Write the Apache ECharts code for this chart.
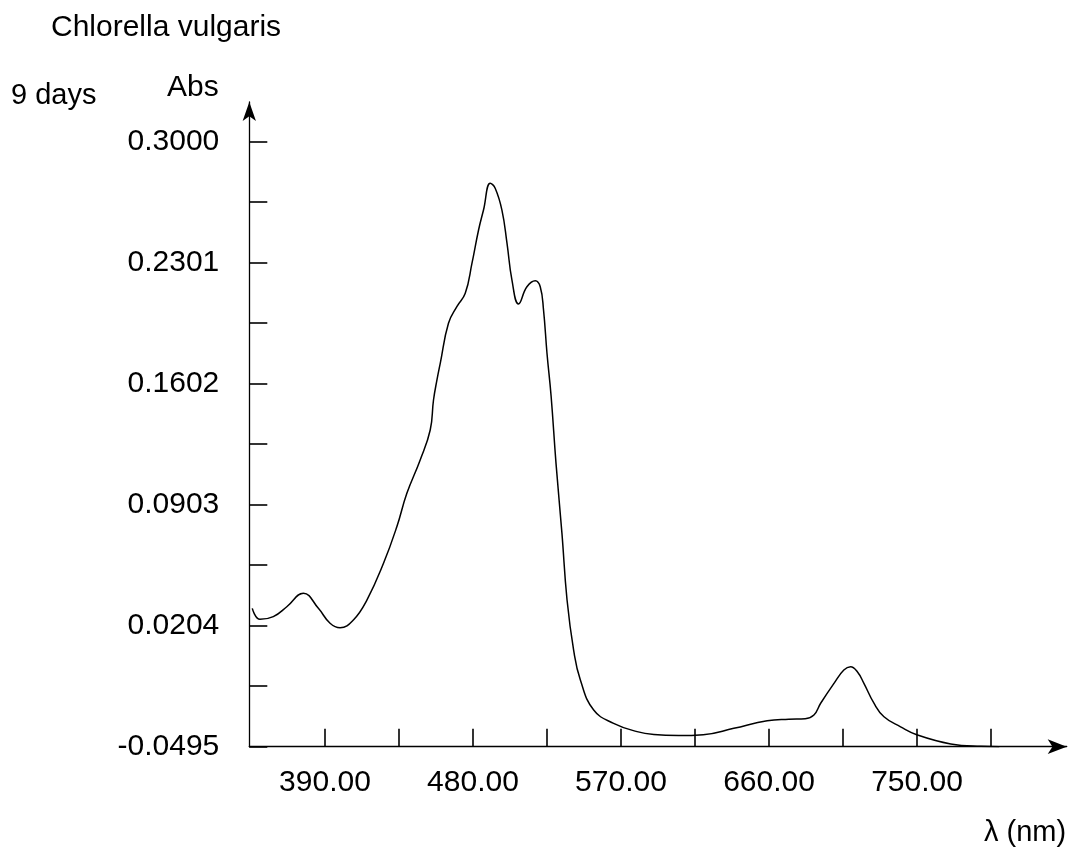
<!DOCTYPE html>
<html>
<head>
<meta charset="utf-8">
<script src="https://cdn.jsdelivr.net/npm/echarts@6/dist/echarts.min.js"></script>
<style>
html,body{margin:0;padding:0;background:#fff;}
#chart{width:1080px;height:850px;}
</style>
</head>
<body>
<div id="chart"></div>
<script>
// ---- data ----
const wavelengths = [345.8, 350.5, 358.6, 366.8, 376.9, 386.0, 393.1, 399.2, 407.3, 415.5,
  425.6, 433.7, 439.8, 447.9, 454.0, 456.0, 458.1, 460.1, 465.1, 470.2,
  475.3, 479.4, 483.4, 486.4, 490.5, 493.5, 497.6, 500.7, 503.7, 507.7,
  512.8, 517.9, 520.9, 522.9, 525.0, 527.5, 530.5, 534.1, 537.2, 541.2,
  545.3, 553.4, 565.5, 579.8, 590.0, 605.0, 620.0, 638.6,
  658.9, 672.0, 682.0, 687.3, 691.4, 699.5, 705.5, 709.6, 713.7,
  717.7, 723.8, 729.9, 740.0, 750.2, 770.5, 788.7, 800.0];
const absorbance = [0.0304, 0.0241, 0.0256, 0.0313, 0.0391, 0.0304, 0.0218, 0.0192, 0.0237, 0.0352,
  0.0564, 0.0775, 0.0968, 0.1161, 0.1334, 0.1507, 0.1623, 0.1719, 0.1950, 0.2046,
  0.2123, 0.2297, 0.2489, 0.2604, 0.2759, 0.2730, 0.2604, 0.2412, 0.2200, 0.2062,
  0.2161, 0.2196, 0.2161, 0.2027, 0.1777, 0.1530, 0.1140, 0.0737, 0.0352, 0.0063,
  -0.0110, -0.0283, -0.0360, -0.0408, -0.0425, -0.0431, -0.0426, -0.0389,
  -0.0345, -0.0336, -0.0333, -0.0312, -0.0244, -0.0129, -0.0052, -0.0033, -0.0062,
  -0.0129, -0.0244, -0.0322, -0.0380, -0.0427, -0.0479, -0.0493, -0.0495];

const xTickValues = [390, 435, 480, 525, 570, 615, 660, 705, 750, 795];
const xLabelValues = [390, 480, 570, 660, 750];
const yTickValues = [-0.0495, -0.01455, 0.0204, 0.05535, 0.0903, 0.12525, 0.1602, 0.19515, 0.2301, 0.26505, 0.3000];
const yLabelValues = [-0.0495, 0.0204, 0.0903, 0.1602, 0.2301, 0.3000];

const titleText = 'Chlorella vulgaris';
const subText = '9 days';
const yName = 'Abs';
const xName = 'λ (nm)';

// ---- chart ----
const FONT = '"Liberation Sans", Arial, sans-serif';
const chart = echarts.init(document.getElementById('chart'), null, {renderer: 'canvas'});
const points = wavelengths.map((w, i) => [w, absorbance[i]]);

chart.setOption({
  backgroundColor: '#ffffff',
  animation: false,
  grid: {left: 249.3, right: 13.3, top: 102, bottom: 103.3, containLabel: false},
  xAxis: {
    type: 'value',
    min: 344, max: 841,
    axisLine: {show: true, onZero: false, symbol: ['none', 'arrow'], symbolSize: [11, 19],
      lineStyle: {color: '#000', width: 1.3}},
    axisTick: {show: true, inside: true, length: 18, customValues: xTickValues,
      lineStyle: {color: '#000', width: 1.6}},
    axisLabel: {show: true, customValues: xLabelValues, margin: 21,
      formatter: v => Number(v).toFixed(2),
      color: '#000', fontSize: 30, fontFamily: FONT},
    splitLine: {show: false}
  },
  yAxis: {
    type: 'value',
    min: -0.0495, max: 0.3228,
    axisLine: {show: true, onZero: false, symbol: ['none', 'arrow'], symbolSize: [10, 19],
      lineStyle: {color: '#000', width: 1.3}},
    axisTick: {show: true, inside: true, length: 18, customValues: yTickValues,
      lineStyle: {color: '#000', width: 1.6}},
    axisLabel: {show: true, customValues: yLabelValues, margin: 30,
      formatter: v => Number(v).toFixed(4),
      color: '#000', fontSize: 30, fontFamily: FONT},
    splitLine: {show: false}
  },
  graphic: [
    {type: 'text', left: 51, top: 13, style: {text: titleText, fill: '#000', font: '30px ' + FONT}},
    {type: 'text', left: 11, top: 81, style: {text: subText, fill: '#000', font: '29px ' + FONT}},
    {type: 'text', left: 167, top: 73, style: {text: yName, fill: '#000', font: '30px ' + FONT}},
    {type: 'text', left: 984, top: 818, style: {text: xName, fill: '#000', font: '29px ' + FONT}}
  ],
  series: [{
    type: 'line',
    data: points,
    smooth: 0.45,
    showSymbol: false,
    lineStyle: {color: '#000', width: 1.5},
    clip: true
  }]
});
</script>
</body>
</html>
